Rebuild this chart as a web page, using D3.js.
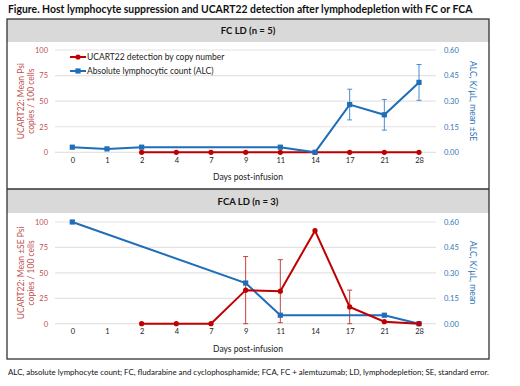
<!DOCTYPE html>
<html><head><meta charset="utf-8">
<script src="https://cdn.jsdelivr.net/npm/d3@7"></script>
<style>body{margin:0;background:#fff}svg{display:block;font-family:Lato,"Open Sans",sans-serif}</style>
</head><body><svg id="c" width="520" height="386"></svg>
<script>
const days = ["0","1","2","4","7","9","11","14","17","21","28"];
const leftTicks = [0,25,50,75,100];
const rightTicks = [0,0.15,0.30,0.45,0.60];
const fcUcart = [null,null,0,0,0,0,0,0,0,0,0];
const fcAlc = [0.03,0.02,0.03,null,null,null,0.03,0.0,0.28,0.22,0.41];
const fcAlcSe = [null,null,null,null,null,null,null,null,0.09,0.09,0.105];
const fcaUcart = [null,null,0,0,0,33,32,91.5,16.5,2,0];
const fcaUcartSe = [null,null,null,null,null,33,31,null,16.5,null,null];
const fcaAlc = [0.6,null,null,null,null,0.24,0.05,null,null,0.05,0];
const fcaAlcSe = [null,null,null,null,null,null,null,null,null,null,null];
const legendLabels = ["UCART22 detection by copy number","Absolute lymphocytic count (ALC)"];

const RED="#C00000", RED_T="#C0504D", BLUE="#1F6EB8", BLUE_T="#2E75B6";
const svg = d3.select("#c");
svg.append("rect").attr("width",520).attr("height",386).attr("fill","#fff");
svg.append("text").attr("x",8).attr("y",13).attr("font-size",10.4).attr("font-weight","bold")
  .attr("fill","#111").text("Figure. Host lymphocyte suppression and UCART22 detection after lymphodepletion with FC or FCA");

const x = d3.scalePoint().domain(days).range([72.3,419]);

const panels = [
  {header:"FC LD (n = 5)", boxTop:19, boxBot:189, hdrBot:42, yTop:50, yBot:152.3,
   left:["UCART22: Mean Psi","copies / 100 cells"], right:"ALC, K/\u00b5L, mean \u00b1SE",
   ucart:fcUcart, ucartSe:null, alc:fcAlc, alcSe:fcAlcSe, legend:true},
  {header:"FCA LD (n = 3)", boxTop:189, boxBot:359, hdrBot:213, yTop:222, yBot:323.7,
   left:["UCART22: Mean \u00b1SE Psi","copies / 100 cells"], right:"ALC, K/\u00b5L, mean",
   ucart:fcaUcart, ucartSe:fcaUcartSe, alc:fcaAlc, alcSe:fcaAlcSe, legend:false}
];

panels.forEach(p=>{
  const g = svg.append("g");
  g.append("rect").attr("x",7).attr("y",p.boxTop).attr("width",482).attr("height",p.hdrBot-p.boxTop).attr("fill","#d9d9d9");
  g.append("text").attr("x",248).attr("y",(p.boxTop+p.hdrBot)/2+3.5).attr("text-anchor","middle")
    .attr("font-size",9.5).attr("font-weight","bold").attr("fill","#111").text(p.header);
  const yL = d3.scaleLinear().domain([0,100]).range([p.yBot,p.yTop]);
  const yR = d3.scaleLinear().domain([0,0.6]).range([p.yBot,p.yTop]);
  g.selectAll(".gr").data(leftTicks).join("line").attr("x1",55).attr("x2",436)
    .attr("y1",d=>yL(d)).attr("y2",d=>yL(d)).attr("stroke","#e3e3e3").attr("stroke-width",1.2);
  const la = g.append("g").attr("transform","translate(52,0)")
    .call(d3.axisLeft(yL).tickValues(leftTicks).tickSize(0).tickPadding(4));
  la.select(".domain").remove();
  la.selectAll("text").attr("fill",RED_T).attr("font-size",7.5).attr("font-family","Lato,sans-serif");
  const ra = g.append("g").attr("transform","translate(440,0)")
    .call(d3.axisRight(yR).tickValues(rightTicks).tickSize(0).tickPadding(4).tickFormat(d3.format(".2f")));
  ra.select(".domain").remove();
  ra.selectAll("text").attr("fill",BLUE_T).attr("font-size",7.5).attr("font-family","Lato,sans-serif");
  const xa = g.append("g").attr("transform",`translate(0,${p.yBot})`)
    .call(d3.axisBottom(x).tickSize(0).tickPadding(5));
  xa.select(".domain").remove();
  xa.selectAll("text").attr("fill","#222").attr("font-size",7.5).attr("font-family","Lato,sans-serif");
  g.append("text").attr("x",248).attr("y",p.yBot+28).attr("text-anchor","middle").attr("font-size",8.5)
    .attr("fill","#222").text("Days post-infusion");
  const cy = (p.yTop+p.yBot)/2;
  p.left.forEach((t,i)=>{
    g.append("text").attr("transform",`translate(${24+i*10},${cy}) rotate(-90)`).attr("text-anchor","middle")
      .attr("font-size",8.5).attr("fill",RED_T).text(t);
  });
  g.append("text").attr("transform",`translate(470,${cy}) rotate(90)`).attr("text-anchor","middle")
    .attr("font-size",8.5).attr("fill",BLUE_T).text(p.right);
  const line = (vals,ys)=>d3.line().x(d=>x(d.k)).y(d=>ys(d.v))(days.map((k,i)=>({k,v:vals[i]})).filter(d=>d.v!=null));
  const errs = (vals,se,ys,col)=>{
    if(!se) return;
    const d = days.map((k,i)=>({k,v:vals[i],s:se[i]})).filter(d=>d.s!=null&&d.v!=null);
    d.forEach(e=>{
      const x0=x(e.k), y1=ys(e.v+e.s), y2=ys(Math.max(0,e.v-e.s));
      g.append("line").attr("x1",x0).attr("x2",x0).attr("y1",y1).attr("y2",y2).attr("stroke",col).attr("stroke-width",1);
      [y1,y2].forEach(yy=>g.append("line").attr("x1",x0-2.5).attr("x2",x0+2.5).attr("y1",yy).attr("y2",yy).attr("stroke",col).attr("stroke-width",1));
    });
  };
  errs(p.alc,p.alcSe,yR,"#4a8ccc");
  errs(p.ucart,p.ucartSe,yL,"#c84040");
  const drawRed=()=>{
    g.append("path").attr("d",line(p.ucart,yL)).attr("fill","none").attr("stroke",RED).attr("stroke-width",2);
    g.selectAll(null).data(days.map((k,i)=>({k,v:p.ucart[i]})).filter(d=>d.v!=null)).join("circle")
      .attr("cx",d=>x(d.k)).attr("cy",d=>yL(d.v)).attr("r",2.6).attr("fill",RED);
  };
  const drawBlue=()=>{
    g.append("path").attr("d",line(p.alc,yR)).attr("fill","none").attr("stroke",BLUE).attr("stroke-width",2);
    g.selectAll(null).data(days.map((k,i)=>({k,v:p.alc[i]})).filter(d=>d.v!=null)).join("rect")
      .attr("x",d=>x(d.k)-2.6).attr("y",d=>yR(d.v)-2.6).attr("width",5.2).attr("height",5.2).attr("fill",BLUE);
  };
  if(p.legend){drawRed();drawBlue();}else{drawBlue();drawRed();}
  if(p.legend){
    [RED,BLUE].forEach((c,i)=>{
      const ly = 57+i*14;
      g.append("line").attr("x1",70).attr("x2",86).attr("y1",ly).attr("y2",ly).attr("stroke",c).attr("stroke-width",2);
      if(i===0) g.append("circle").attr("cx",78).attr("cy",ly).attr("r",2.6).attr("fill",c);
      else g.append("rect").attr("x",75.4).attr("y",ly-2.6).attr("width",5.2).attr("height",5.2).attr("fill",c);
      g.append("text").attr("x",87).attr("y",ly+3).attr("font-size",8.5).attr("fill","#222").text(legendLabels[i]);
    });
  }
});
svg.append("rect").attr("x",7).attr("y",19).attr("width",482).attr("height",340).attr("fill","none").attr("stroke","#333").attr("stroke-width",1.3);
svg.append("line").attr("x1",7).attr("x2",489).attr("y1",189).attr("y2",189).attr("stroke","#333").attr("stroke-width",1.3);
svg.append("text").attr("x",8).attr("y",375).attr("font-size",7.9).attr("fill","#111")
  .text("ALC, absolute lymphocyte count; FC, fludarabine and cyclophosphamide; FCA, FC + alemtuzumab; LD, lymphodepletion; SE, standard error.");
</script></body></html>
